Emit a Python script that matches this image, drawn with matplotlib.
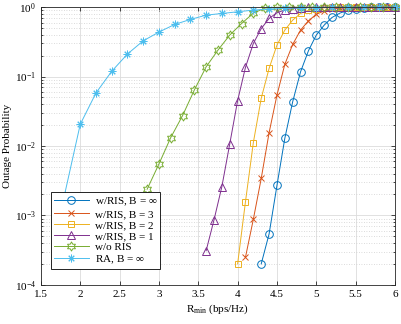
import numpy as np
import matplotlib
matplotlib.use('Agg')
import matplotlib.pyplot as plt
from matplotlib.path import Path

plt.rcParams['font.family'] = ['Liberation Serif', 'DejaVu Serif']
plt.rcParams['mathtext.fontset'] = 'custom'
plt.rcParams['mathtext.rm'] = 'Liberation Serif'
plt.rcParams['mathtext.it'] = 'Liberation Serif:italic'
plt.rcParams['font.size'] = 8

# w/RIS, B = inf
x_inf = [4.3, 4.4, 4.5, 4.6, 4.7, 4.8, 4.9, 5.0, 5.1, 5.2, 5.3, 5.4, 5.5, 5.6,
         5.7, 5.8, 5.9, 6.0]
p_inf = [2.0e-4, 5.4e-4, 2.7e-3, 0.0129, 0.0434, 0.117, 0.235, 0.396, 0.55,
         0.71, 0.82, 0.90, 0.95, 0.975, 0.99, 0.995, 0.998, 0.999]
# w/RIS, B = 3
x_b3 = [4.1, 4.2, 4.3, 4.4, 4.5, 4.6, 4.7, 4.8, 4.9, 5.0, 5.1, 5.2, 5.3, 5.4,
        5.5, 5.6, 5.7, 5.8, 5.9, 6.0]
p_b3 = [2.5e-4, 8.8e-4, 3.4e-3, 0.0155, 0.054, 0.15, 0.29, 0.467, 0.635, 0.79,
        0.88, 0.94, 0.97, 0.985, 0.993, 0.997, 0.999, 1.0, 1.0, 1.0]
# w/RIS, B = 2
x_b2 = [4.0, 4.1, 4.2, 4.3, 4.4, 4.5, 4.6, 4.7, 4.8, 4.9, 5.0, 5.1, 5.2, 5.3,
        5.4, 5.5, 5.6, 5.7, 5.8, 5.9, 6.0]
p_b2 = [2.0e-4, 1.58e-3, 0.0112, 0.0486, 0.131, 0.284, 0.467, 0.65, 0.81, 0.90,
        0.95, 0.975, 0.99, 0.995, 0.998, 0.999, 1.0, 1.0, 1.0, 1.0, 1.0]
# w/RIS, B = 1
x_b1 = [3.6, 3.7, 3.8, 3.9, 4.0, 4.1, 4.2, 4.3, 4.4, 4.5, 4.6, 4.7, 4.8, 4.9,
        5.0, 5.1, 5.2, 5.3, 5.4, 5.5, 5.6, 5.7, 5.8, 5.9, 6.0]
p_b1 = [3.1e-4, 8.6e-4, 2.6e-3, 0.0107, 0.0449, 0.136, 0.30, 0.49, 0.687, 0.83,
        0.91, 0.955, 0.98, 0.99, 0.995, 0.998, 0.999, 1.0, 1.0, 1.0, 1.0, 1.0,
        1.0, 1.0, 1.0]
# w/o RIS
x_noris = [2.85, 3.0, 3.15, 3.3, 3.45, 3.6, 3.75, 3.9, 4.05, 4.2, 4.35, 4.5,
           4.65, 4.8, 4.95, 5.1, 5.25, 5.4, 5.55, 5.7, 5.85, 6.0]
p_noris = [2.38e-3, 5.5e-3, 0.0132, 0.0273, 0.064, 0.138, 0.24, 0.396, 0.58,
           0.82, 0.97, 0.995, 0.999, 1.0, 1.0, 1.0, 1.0, 1.0, 1.0, 1.0, 1.0, 1.0]
# RA, B = inf
x_ra = [1.8, 2.0, 2.2, 2.4, 2.6, 2.8, 3.0, 3.2, 3.4, 3.6, 3.8, 4.0, 4.2, 4.4,
        4.6, 4.8, 5.0, 5.2, 5.4, 5.6, 5.8, 6.0]
p_ra = [1.97e-3, 0.0205, 0.058, 0.119, 0.211, 0.327, 0.437, 0.563, 0.665, 0.767,
        0.81, 0.857, 0.906, 0.94, 0.96, 0.975, 0.985, 0.99, 0.995, 0.997, 0.998,
        0.999]

labels = ['w/RIS, B = $\\infty$', 'w/RIS, B = 3', 'w/RIS, B = 2', 'w/RIS, B = 1',
          'w/o RIS', 'RA, B = $\\infty$']

# hexagram like matlab
hexa = Path.unit_regular_star(6, 0.577)

fig = plt.figure(figsize=(4.01, 3.24), dpi=100)
ax = fig.add_axes([0.102, 0.121, 0.883, 0.857])

series = [
    (x_inf, p_inf, '#0072BD', 'o', 5.5),
    (x_b3, p_b3, '#D95319', 'x', 4.5),
    (x_b2, p_b2, '#EDB120', 's', 5),
    (x_b1, p_b1, '#7E2F8E', '^', 6),
    (x_noris, p_noris, '#77AC30', hexa, 6.5),
    (x_ra, p_ra, '#4DBEEE', (8, 2, 0), 5.5),
]
for (xs, ps, c, m, ms), lab in zip(series, labels):
    ax.plot(xs, ps, color=c, marker=m, ms=ms, mfc='none', mec=c, mew=0.7,
            lw=0.7, label=lab, clip_on=False)

ax.set_yscale('log')
ax.set_xlim(1.5, 6)
ax.set_ylim(1e-4, 1)
ax.set_xticks([1.5, 2, 2.5, 3, 3.5, 4, 4.5, 5, 5.5, 6])
ax.set_xticklabels(['1.5', '2', '2.5', '3', '3.5', '4', '4.5', '5', '5.5', '6'])

ax.grid(True, which='major', color='#dcdcdc', lw=0.6, ls='-')
ax.grid(True, which='minor', axis='y', color='#cfcfcf', lw=0.6, ls=(0, (1, 2)))
ax.set_axisbelow(True)
ax.tick_params(which='both', direction='in', top=True, right=True, width=0.5)
ax.tick_params(which='major', length=3)
ax.tick_params(which='minor', length=1.5)
ax.tick_params(axis='x', which='minor', bottom=False, top=False)
for s in ax.spines.values():
    s.set_linewidth(0.6)
    s.set_color('#262626')

ax.set_xlabel('R$_{\\mathrm{min}}$ (bps/Hz)', labelpad=3)
ax.set_ylabel('Outage Probability', labelpad=2)

leg = ax.legend(loc='lower left', bbox_to_anchor=(0.022, 0.05), fancybox=False,
                edgecolor='black', framealpha=1, handlelength=3.2,
                borderpad=0.25, labelspacing=0.12, handletextpad=0.5,
                borderaxespad=0.2)
leg.get_frame().set_linewidth(0.6)

fig.savefig('out.png', dpi=100)
